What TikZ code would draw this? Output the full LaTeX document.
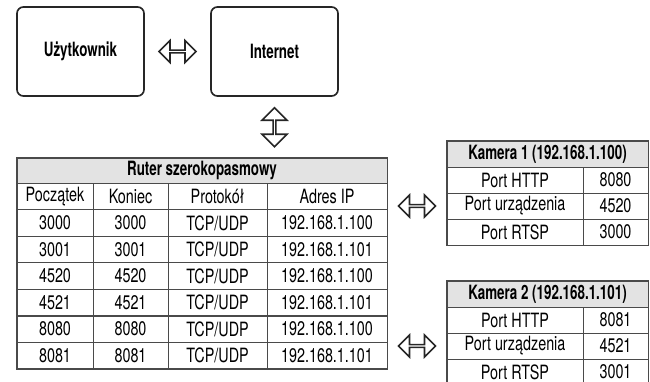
\documentclass[tikz,border=0pt]{standalone}
\usepackage{fontspec}
\setmainfont{TeX Gyre Heros}[FakeStretch=0.73, BoldFeatures={FakeStretch=0.68}]
\usetikzlibrary{calc,shapes.arrows}
\definecolor{gridgray}{HTML}{4A4A4A}
\definecolor{headgray}{HTML}{E3E3E3}

\begin{document}
\begin{tikzpicture}[x=0.25mm,y=-0.25mm,
	box/.style={draw=black!85, line width=1.2pt, rounded corners=1.6mm,
		minimum width=31.75mm, minimum height=22.25mm, font=\fontsize{14}{16}\selectfont\bfseries},
	cell/.style={draw=gridgray, line width=0.5pt, inner sep=0pt,
		font=\fontsize{14}{16}\selectfont},
	rcell/.style={cell, minimum height=6.64mm},
	ccell/.style={cell, minimum height=6.5mm},
	headcell/.style={cell, fill=headgray, font=\fontsize{14}{16}\selectfont\bfseries},
	outer/.style={draw=gridgray, line width=1.2pt},
	dblarrow/.style={double arrow, draw=black!85, line width=1.1pt, inner sep=0pt,
		minimum height=9.25mm, minimum width=5.5mm, double arrow head extend=1.4mm},
	]
	%%%%% START %%%%%
	\useasboundingbox (0,0) rectangle (650,382);
	
	% user and internet
	\node[box] (user) at (80.5,51.5) {Użytkownik};
	\node[box] (inet) at (274.5,51.5) {Internet};
	
	% router table
	\node[headcell, minimum width=92.5mm, minimum height=6.25mm] (rhead) at (202,170.5) {Ruter szerokopasmowy};
	
	\node[rcell, minimum width=19mm] (r0a) at (55,196.3) {Początek};
	\node[rcell, minimum width=18.75mm] (r0b) at (130.5,196.3) {Koniec};
	\node[rcell, minimum width=24.75mm] (r0c) at (217.5,196.3) {Protokół};
	\node[rcell, minimum width=30mm] (r0d) at (327,196.3) {Adres IP};
	
	\node[rcell, minimum width=19mm] (r1a) at (55,222.9) {3000};
	\node[rcell, minimum width=18.75mm] (r1b) at (130.5,222.9) {3000};
	\node[rcell, minimum width=24.75mm] (r1c) at (217.5,222.9) {TCP/UDP};
	\node[rcell, minimum width=30mm] (r1d) at (327,222.9) {192.168.1.100};
	
	\node[rcell, minimum width=19mm] (r2a) at (55,249.4) {3001};
	\node[rcell, minimum width=18.75mm] (r2b) at (130.5,249.4) {3001};
	\node[rcell, minimum width=24.75mm] (r2c) at (217.5,249.4) {TCP/UDP};
	\node[rcell, minimum width=30mm] (r2d) at (327,249.4) {192.168.1.101};
	
	\node[rcell, minimum width=19mm] (r3a) at (55,276.0) {4520};
	\node[rcell, minimum width=18.75mm] (r3b) at (130.5,276.0) {4520};
	\node[rcell, minimum width=24.75mm] (r3c) at (217.5,276.0) {TCP/UDP};
	\node[rcell, minimum width=30mm] (r3d) at (327,276.0) {192.168.1.100};
	
	\node[rcell, minimum width=19mm] (r4a) at (55,302.6) {4521};
	\node[rcell, minimum width=18.75mm] (r4b) at (130.5,302.6) {4521};
	\node[rcell, minimum width=24.75mm] (r4c) at (217.5,302.6) {TCP/UDP};
	\node[rcell, minimum width=30mm] (r4d) at (327,302.6) {192.168.1.101};
	
	\node[rcell, minimum width=19mm] (r5a) at (55,329.1) {8080};
	\node[rcell, minimum width=18.75mm] (r5b) at (130.5,329.1) {8080};
	\node[rcell, minimum width=24.75mm] (r5c) at (217.5,329.1) {TCP/UDP};
	\node[rcell, minimum width=30mm] (r5d) at (327,329.1) {192.168.1.100};
	
	\node[rcell, minimum width=19mm] (r6a) at (55,355.7) {8081};
	\node[rcell, minimum width=18.75mm] (r6b) at (130.5,355.7) {8081};
	\node[rcell, minimum width=24.75mm] (r6c) at (217.5,355.7) {TCP/UDP};
	\node[rcell, minimum width=30mm] (r6d) at (327,355.7) {192.168.1.101};
	
	\draw[outer] (rhead.north west) rectangle (r6d.south east);
	
	% camera 1
	\node[headcell, minimum width=50.25mm, minimum height=6.5mm] (c1head) at (547.5,154) {Kamera 1 (192.168.1.100)};
	\node[ccell, minimum width=34mm] (c1a) at (515,180) {Port HTTP};
	\node[ccell, minimum width=16.25mm] (c1b) at (615.5,180) {8080};
	\node[ccell, minimum width=34mm] (c1c) at (515,206) {Port urządzenia};
	\node[ccell, minimum width=16.25mm] (c1d) at (615.5,206) {4520};
	\node[ccell, minimum width=34mm] (c1e) at (515,232) {Port RTSP};
	\node[ccell, minimum width=16.25mm] (c1f) at (615.5,232) {3000};
	\draw[outer] (c1head.north west) rectangle (c1f.south east);
	
	% camera 2
	\node[headcell, minimum width=50.25mm, minimum height=6.5mm] (c2head) at (547.5,294) {Kamera 2 (192.168.1.101)};
	\node[ccell, minimum width=34mm] (c2a) at (515,320) {Port HTTP};
	\node[ccell, minimum width=16.25mm] (c2b) at (615.5,320) {8081};
	\node[ccell, minimum width=34mm] (c2c) at (515,346) {Port urządzenia};
	\node[ccell, minimum width=16.25mm] (c2d) at (615.5,346) {4521};
	\node[ccell, minimum width=34mm] (c2e) at (515,372) {Port RTSP};
	\node[ccell, minimum width=16.25mm] (c2f) at (615.5,372) {3001};
	\draw[outer] (c2head.north west) rectangle (c2f.south east);
	
	% hollow arrows
	\node[dblarrow] (ui) at ($(user.east)!0.5!(inet.west)$) {};
	\node[dblarrow, minimum height=9.75mm, minimum width=6.25mm, double arrow head extend=1.6mm,
		shape border rotate=90] (ir) at ($(inet.south)!0.5!(rhead.north -| inet.south)$) {};
	\node[dblarrow] (rc1) at ($(rhead.east |- c1c.center)!0.5!(c1c.west)$) {};
	\node[dblarrow] (rc2) at ($(rhead.east |- c2c.center)!0.5!(c2c.west)$) {};
	
	%%%%% END %%%%%
\end{tikzpicture}
\end{document}
